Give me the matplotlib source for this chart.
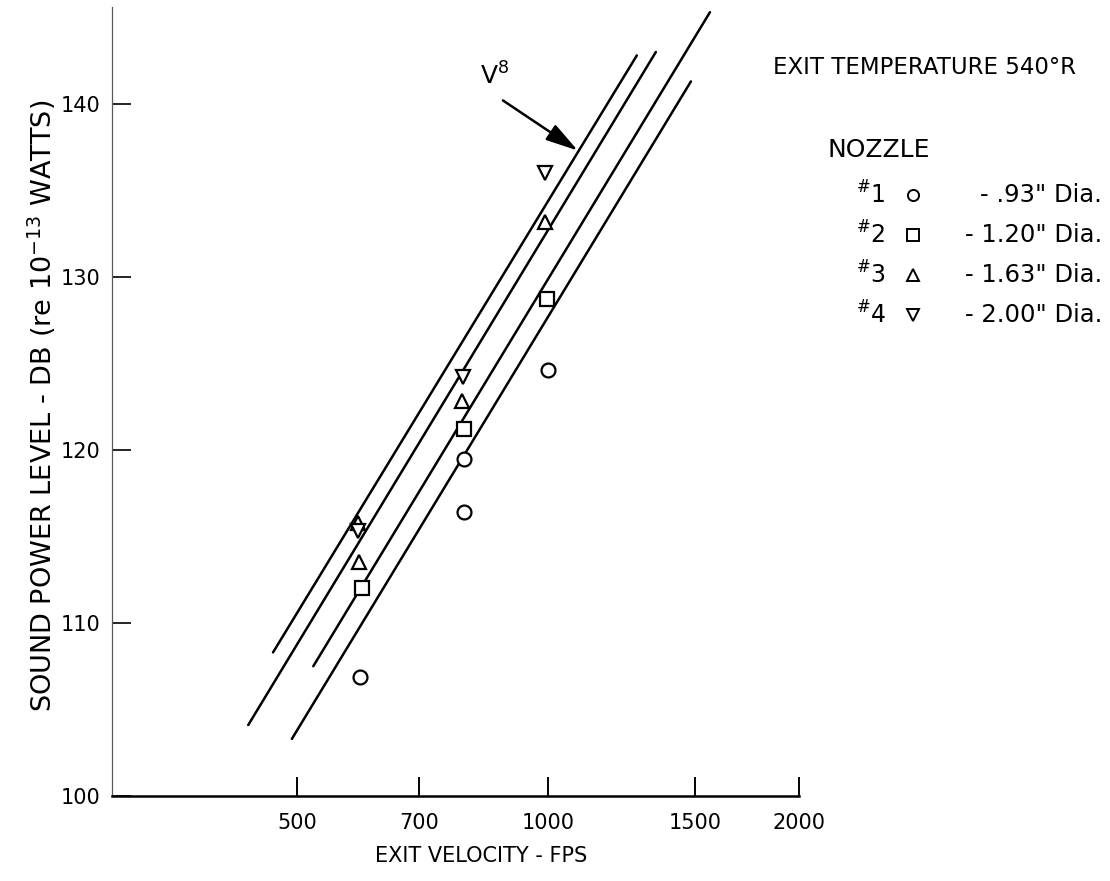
import numpy as np
import matplotlib.pyplot as plt

# ==========================================
# DATA
# ==========================================
# nozzle #1 (.93" dia.)
n1_vel = [595, 793, 793, 1000]
n1_db = [106.9, 116.4, 119.5, 124.6]
# nozzle #2 (1.20" dia.)
n2_vel = [598, 793, 997]
n2_db = [112.0, 121.2, 128.7]
# nozzle #3 (1.63" dia.)
n3_vel = [592, 594, 789, 992]
n3_db = [115.8, 113.5, 122.8, 133.2]
# nozzle #4 (2.00" dia.)
n4_vel = [592, 791, 992]
n4_db = [115.3, 124.2, 136.0]

# V^8 reference lines: start / end points
line_v0 = [468, 437, 523, 493]
line_db0 = [108.3, 104.1, 107.5, 103.3]
line_v1 = [1278, 1347, 1564, 1484]
line_db1 = [142.8, 143.0, 145.3, 141.3]

x_ticks = [500, 700, 1000, 1500, 2000]
y_ticks = [100, 110, 120, 130, 140]

nozzle_ids = ['1', '2', '3', '4']
nozzle_dia = ['- .93" Dia.', '- 1.20" Dia.', '- 1.63" Dia.', '- 2.00" Dia.']
nozzle_markers = ['o', 's', '^', 'v']

plt.rcParams['font.family'] = ['DejaVu Sans']

W, H = 1110, 881
fig = plt.figure(figsize=(W / 100, H / 100), dpi=100)
ax = fig.add_axes([112 / W, 85 / H, 687 / W, 789 / H])

# ==========================================
# REFERENCE LINES
# ==========================================
for v0, d0, v1, d1 in zip(line_v0, line_db0, line_v1, line_db1):
    ax.plot([v0, v1], [d0, d1], color='black', lw=1.8, solid_capstyle='round')

# ==========================================
# DATA POINTS
# ==========================================
series = [(n1_vel, n1_db), (n2_vel, n2_db), (n3_vel, n3_db), (n4_vel, n4_db)]
for (v, d), m in zip(series, nozzle_markers):
    ax.plot(v, d, linestyle='none', marker=m, markersize=10,
            markerfacecolor='white', markeredgecolor='black',
            markeredgewidth=1.6, zorder=3)

# ==========================================
# AXES
# ==========================================
ax.set_xscale('log')
ax.set_xlim(300, 2000)
ax.set_ylim(100, 145.6)
ax.set_xticks(x_ticks)
ax.set_xticklabels([str(t) for t in x_ticks])
ax.xaxis.set_minor_locator(plt.NullLocator())
ax.set_yticks(y_ticks)
ax.set_yticklabels([str(t) for t in y_ticks])

ax.spines['top'].set_visible(False)
ax.spines['right'].set_visible(False)
ax.spines['bottom'].set_linewidth(1.8)
ax.spines['left'].set_linewidth(0.9)
ax.spines['left'].set_color('0.35')

ax.tick_params(axis='x', direction='in', length=14, width=1.4, pad=12,
               labelsize=15)
ax.tick_params(axis='y', direction='in', length=14, width=1.2, pad=8,
               labelsize=15)

# V^8 annotation
ax.annotate('', xy=(1086, 137.3), xytext=(883, 140.2),
            arrowprops=dict(arrowstyle='-|>,head_length=0.9,head_width=0.25',
                            color='black', lw=1.8, mutation_scale=22,
                            shrinkA=0, shrinkB=0))
ax.text(862, 141.6, 'V$^8$', fontsize=18, ha='center', va='center')

# ==========================================
# LABELS
# ==========================================
fig.text(481 / W, 1 - 856 / H, 'EXIT VELOCITY - FPS', fontsize=15,
         ha='center', va='center')
fig.text(42 / W, 1 - 406 / H, 'SOUND POWER LEVEL - DB (re 10$^{-13}$ WATTS)',
         fontsize=19.5, rotation=90, ha='center', va='center')

fig.text(773 / W, 1 - 67 / H, 'EXIT TEMPERATURE 540°R', fontsize=16.5,
         ha='left', va='center')
fig.text(827 / W, 1 - 150 / H, 'NOZZLE', fontsize=18, ha='left', va='center')

for i, (nid, dia, m) in enumerate(zip(nozzle_ids, nozzle_dia, nozzle_markers)):
    yy = 1 - (195 + 40 * i) / H
    fig.text(856 / W, yy, r'$^{\#}$' + nid, fontsize=17, ha='left', va='center')
    fig.lines.append(plt.Line2D([913 / W], [yy], transform=fig.transFigure,
                                marker=m, markersize=8, markerfacecolor='white',
                                markeredgecolor='black', markeredgewidth=1.4,
                                linestyle='none'))
    fig.text(1102 / W, yy, dia, fontsize=17.5, ha='right', va='center')

fig.savefig('out.png', dpi=100)
